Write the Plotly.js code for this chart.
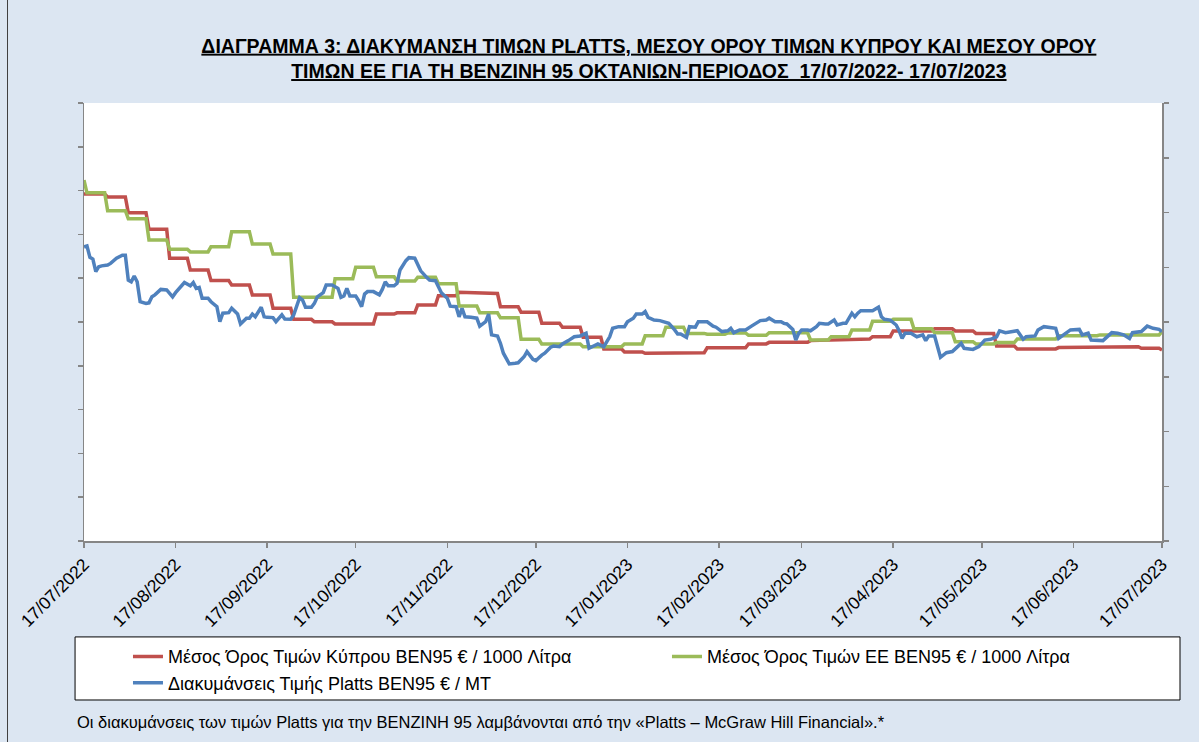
<!DOCTYPE html>
<html>
<head>
<meta charset="utf-8">
<script src="https://cdn.plot.ly/plotly-3.0.1.min.js"></script>
<style>
  html, body { margin: 0; padding: 0; background: #dce6f2; }
  #chart { position: absolute; left: 0; top: 0; width: 1199px; height: 742px; }
  #edge { position: absolute; left: 7px; top: 0; width: 1px; height: 742px; background: #404040; }
</style>
</head>
<body>
<div id="chart"></div>
<div id="edge"></div>
<script>
// Τιμές (Κύπρος / ΕΕ σε € / 1000 Λίτρα, Platts σε € / MT) — εκτιμήσεις από το διάγραμμα
const cyDates = ['2022-07-17','2022-07-24','2022-07-25','2022-07-31','2022-08-01','2022-08-07','2022-08-08','2022-08-14','2022-08-15','2022-08-21','2022-08-22','2022-08-28','2022-08-29','2022-09-04','2022-09-05','2022-09-11','2022-09-12','2022-09-18','2022-09-19','2022-09-25','2022-09-26','2022-10-02','2022-10-03','2022-10-09','2022-10-10','2022-10-23','2022-10-24','2022-10-30','2022-10-31','2022-11-06','2022-11-07','2022-11-13','2022-11-14','2022-11-20','2022-11-21','2022-12-04','2022-12-05','2022-12-11','2022-12-12','2022-12-18','2022-12-19','2022-12-25','2022-12-26','2023-01-01','2023-01-02','2023-01-08','2023-01-09','2023-01-15','2023-01-16','2023-01-22','2023-01-23','2023-01-29','2023-01-30','2023-02-12','2023-02-13','2023-02-26','2023-02-27','2023-03-05','2023-03-06','2023-03-19','2023-03-20','2023-04-09','2023-04-10','2023-04-16','2023-04-17','2023-04-30','2023-05-01','2023-05-07','2023-05-08','2023-05-14','2023-05-15','2023-05-21','2023-05-22','2023-05-28','2023-05-29','2023-06-11','2023-06-12','2023-06-25','2023-06-26','2023-07-09','2023-07-10','2023-07-16','2023-07-17'];
const cyValues = [1584,1584,1571,1571,1499,1499,1423,1423,1291,1291,1237,1237,1189,1189,1169,1169,1123,1123,1063,1063,1012,1012,1001,1001,991,991,1036,1036,1042,1042,1078,1078,1120,1120,1136,1130,1070,1070,1044,1044,994,994,976,976,930,930,877,877,863,863,857,857,860,860,882,882,900,900,907,907,915,922,933,933,959,959,969,969,959,959,948,948,890,890,877,877,883,883,887,887,880,880,872];

const euDates = ['2022-07-17','2022-07-18','2022-07-24','2022-07-25','2022-07-31','2022-08-01','2022-08-07','2022-08-08','2022-08-14','2022-08-15','2022-08-21','2022-08-22','2022-08-28','2022-08-29','2022-09-04','2022-09-05','2022-09-11','2022-09-12','2022-09-18','2022-09-19','2022-09-25','2022-09-26','2022-10-09','2022-10-10','2022-10-16','2022-10-17','2022-10-23','2022-10-24','2022-10-30','2022-10-31','2022-11-06','2022-11-07','2022-11-13','2022-11-14','2022-11-20','2022-11-21','2022-11-27','2022-11-28','2022-12-04','2022-12-05','2022-12-11','2022-12-12','2022-12-18','2022-12-19','2023-01-01','2023-01-02','2023-01-15','2023-01-16','2023-01-22','2023-01-23','2023-01-29','2023-01-30','2023-02-05','2023-02-06','2023-02-12','2023-02-13','2023-02-19','2023-02-20','2023-02-26','2023-02-27','2023-03-05','2023-03-06','2023-03-19','2023-03-20','2023-03-26','2023-03-27','2023-04-02','2023-04-03','2023-04-09','2023-04-10','2023-04-16','2023-04-17','2023-04-23','2023-04-24','2023-04-30','2023-05-01','2023-05-07','2023-05-08','2023-05-14','2023-05-15','2023-05-21','2023-05-22','2023-05-28','2023-05-29','2023-06-11','2023-06-12','2023-06-25','2023-06-26','2023-07-16','2023-07-17'];
const euValues = [1648,1590,1590,1508,1508,1472,1472,1374,1374,1332,1332,1320,1320,1344,1344,1412,1412,1356,1356,1310,1310,1113,1113,1198,1198,1250,1250,1207,1207,1187,1187,1204,1204,1175,1175,1073,1073,1042,1042,1019,1019,921,921,900,900,887,887,900,900,937,937,976,976,948,948,944,944,950,950,939,939,951,951,918,918,933,933,963,963,1003,1003,1012,1012,969,969,951,951,910,910,900,900,906,906,922,922,937,937,941,941,956];

const plattsDates = ['2022-07-17','2022-07-18','2022-07-19','2022-07-20','2022-07-21','2022-07-22','2022-07-23','2022-07-25','2022-07-26','2022-07-28','2022-07-30','2022-07-31','2022-08-01','2022-08-02','2022-08-03','2022-08-04','2022-08-05','2022-08-07','2022-08-08','2022-08-09','2022-08-10','2022-08-12','2022-08-14','2022-08-15','2022-08-16','2022-08-17','2022-08-19','2022-08-20','2022-08-22','2022-08-23','2022-08-24','2022-08-25','2022-08-26','2022-08-28','2022-08-29','2022-08-31','2022-09-01','2022-09-02','2022-09-04','2022-09-05','2022-09-07','2022-09-08','2022-09-10','2022-09-11','2022-09-12','2022-09-13','2022-09-15','2022-09-16','2022-09-17','2022-09-19','2022-09-20','2022-09-22','2022-09-23','2022-09-25','2022-09-26','2022-09-28','2022-09-29','2022-09-30','2022-10-02','2022-10-03','2022-10-04','2022-10-06','2022-10-07','2022-10-09','2022-10-11','2022-10-12','2022-10-13','2022-10-14','2022-10-15','2022-10-17','2022-10-18','2022-10-19','2022-10-20','2022-10-21','2022-10-23','2022-10-25','2022-10-26','2022-10-27','2022-10-28','2022-10-30','2022-10-31','2022-11-01','2022-11-03','2022-11-04','2022-11-06','2022-11-07','2022-11-08','2022-11-10','2022-11-11','2022-11-13','2022-11-14','2022-11-15','2022-11-17','2022-11-18','2022-11-20','2022-11-21','2022-11-22','2022-11-23','2022-11-25','2022-11-27','2022-11-28','2022-11-30','2022-12-01','2022-12-02','2022-12-04','2022-12-05','2022-12-06','2022-12-07','2022-12-08','2022-12-10','2022-12-11','2022-12-13','2022-12-14','2022-12-16','2022-12-17','2022-12-19','2022-12-20','2022-12-22','2022-12-23','2022-12-25','2022-12-26','2022-12-28','2022-12-30','2023-01-01','2023-01-03','2023-01-04','2023-01-06','2023-01-07','2023-01-09','2023-01-11','2023-01-12','2023-01-14','2023-01-16','2023-01-17','2023-01-19','2023-01-20','2023-01-22','2023-01-23','2023-01-24','2023-01-26','2023-01-28','2023-01-29','2023-01-31','2023-02-02','2023-02-03','2023-02-04','2023-02-06','2023-02-07','2023-02-09','2023-02-10','2023-02-13','2023-02-15','2023-02-16','2023-02-18','2023-02-20','2023-02-21','2023-02-22','2023-02-24','2023-02-26','2023-02-28','2023-03-02','2023-03-03','2023-03-05','2023-03-06','2023-03-08','2023-03-10','2023-03-11','2023-03-12','2023-03-14','2023-03-15','2023-03-16','2023-03-17','2023-03-19','2023-03-20','2023-03-22','2023-03-23','2023-03-25','2023-03-26','2023-03-28','2023-03-29','2023-03-31','2023-04-01','2023-04-03','2023-04-04','2023-04-05','2023-04-06','2023-04-10','2023-04-12','2023-04-13','2023-04-14','2023-04-16','2023-04-18','2023-04-19','2023-04-20','2023-04-21','2023-04-23','2023-04-25','2023-04-27','2023-04-28','2023-04-29','2023-05-01','2023-05-02','2023-05-03','2023-05-05','2023-05-07','2023-05-10','2023-05-11','2023-05-14','2023-05-16','2023-05-18','2023-05-20','2023-05-22','2023-05-23','2023-05-25','2023-05-29','2023-05-31','2023-06-01','2023-06-04','2023-06-05','2023-06-07','2023-06-11','2023-06-12','2023-06-14','2023-06-16','2023-06-19','2023-06-20','2023-06-22','2023-06-23','2023-06-27','2023-06-30','2023-07-02','2023-07-04','2023-07-06','2023-07-07','2023-07-10','2023-07-12','2023-07-14','2023-07-16','2023-07-17'];
const plattsValues = [1075,1078,1036,1030,984,1002,1005,1008,1014,1033,1044,1044,953,947,968,947,874,868,870,892,899,919,917,905,892,907,935,944,932,944,923,926,887,887,874,856,801,832,834,850,829,793,814,814,829,819,854,819,817,816,801,826,811,810,826,889,880,854,854,868,892,907,935,935,923,890,895,923,895,895,878,856,902,911,911,899,919,947,932,932,941,990,1024,1035,1033,1008,987,963,953,951,932,907,887,858,856,819,850,819,817,814,785,801,829,753,749,722,686,664,647,649,651,673,692,664,659,679,686,708,712,710,720,732,746,749,759,704,716,720,710,746,777,783,783,801,814,829,829,838,817,807,805,801,795,771,756,756,744,783,781,801,801,785,781,765,768,777,761,771,771,785,801,805,807,814,801,801,795,793,773,734,759,771,771,768,783,795,793,793,807,789,795,795,832,819,832,841,841,854,819,810,807,789,768,740,759,759,746,753,732,749,749,704,671,688,692,722,704,700,710,734,737,746,768,761,768,737,746,749,771,783,777,740,756,771,773,753,759,734,732,761,759,753,740,761,765,785,777,773,765];

const tickDates = ['2022-07-17','2022-08-17','2022-09-17','2022-10-17','2022-11-17','2022-12-17','2023-01-17','2023-02-17','2023-03-17','2023-04-17','2023-05-17','2023-06-17','2023-07-17'];
const tickLabels = ['17/07/2022','17/08/2022','17/09/2022','17/10/2022','17/11/2022','17/12/2022','17/01/2023','17/02/2023','17/03/2023','17/04/2023','17/05/2023','17/06/2023','17/07/2023'];

const seriesNames = [
  'Μέσος Όρος Τιμών Κύπρου BEN95 € / 1000 Λίτρα',
  'Μέσος Όρος Τιμών ΕΕ BEN95 € / 1000 Λίτρα',
  'Διακυμάνσεις Τιμής Platts BEN95 € / MT'
];

const FONT = 'Liberation Sans, Arial, sans-serif';
const AXC = '#868686';

const traces = [
  { x: cyDates, y: cyValues, name: seriesNames[0], type: 'scatter', mode: 'lines',
    line: { color: '#c0504d', width: 3.5 }, yaxis: 'y', legendwidth: 494 },
  { x: euDates, y: euValues, name: seriesNames[1], type: 'scatter', mode: 'lines',
    line: { color: '#9bbb59', width: 3.5 }, yaxis: 'y' },
  { x: plattsDates, y: plattsValues, name: seriesNames[2], type: 'scatter', mode: 'lines',
    line: { color: '#4f81bd', width: 3.5 }, yaxis: 'y2' }
];

const layout = {
  width: 1199, height: 742,
  paper_bgcolor: '#dce6f2', plot_bgcolor: '#ffffff',
  margin: { l: 84, r: 37, t: 103, b: 201 },
  font: { family: FONT, color: '#000000', size: 14 },
  title: {
    text: '<b><u>ΔΙΑΓΡΑΜΜΑ 3: ΔΙΑΚΥΜΑΝΣΗ ΤΙΜΩΝ PLATTS, ΜΕΣΟΥ ΟΡΟΥ ΤΙΜΩΝ ΚΥΠΡΟΥ ΚΑΙ ΜΕΣΟΥ ΟΡΟΥ</u></b><br><b><u>ΤΙΜΩΝ ΕΕ ΓΙΑ ΤΗ ΒΕΝΖΙΝΗ 95 ΟΚΤΑΝΙΩΝ-ΠΕΡΙΟΔΟΣ  17/07/2022- 17/07/2023</u></b>',
    font: { family: FONT, size: 19.5, color: '#000000' },
    xref: 'paper', x: 0.524, xanchor: 'center',
    yref: 'container', y: 0.929, yanchor: 'top'
  },
  xaxis: {
    type: 'date', range: ['2022-07-17', '2023-07-17'],
    tickvals: tickDates, ticktext: tickLabels, tickangle: -45,
    tickfont: { family: FONT, size: 17.5, color: '#000000' },
    showline: true, linecolor: AXC, linewidth: 1.5,
    ticks: 'outside', ticklen: 5, tickcolor: AXC, tickwidth: 1.5,
    showgrid: false, zeroline: false, fixedrange: true
  },
  yaxis: {
    range: [0, 2000], dtick: 200, tick0: 0,
    showticklabels: false, showline: true, linecolor: AXC, linewidth: 1.5,
    ticks: 'outside', ticklen: 5, tickcolor: AXC, tickwidth: 1.5,
    showgrid: false, zeroline: false, fixedrange: true
  },
  yaxis2: {
    range: [0, 1600], dtick: 200, tick0: 0, overlaying: 'y', side: 'right', anchor: 'x',
    showticklabels: false, showline: true, linecolor: AXC, linewidth: 1.5,
    ticks: 'outside', ticklen: 5, tickcolor: AXC, tickwidth: 1.5,
    showgrid: false, zeroline: false, fixedrange: true
  },
  showlegend: true,
  legend: {
    orientation: 'h', x: 0.0408, xanchor: 'left', y: -0.222, yanchor: 'top',
    bgcolor: 'rgba(0,0,0,0)', borderwidth: 0,
    font: { family: FONT, size: 18, color: '#000000' },
    itemwidth: 30, traceorder: 'normal'
  },
  shapes: [
    { type: 'rect', xref: 'paper', yref: 'paper', x0: -0.0083, x1: 1.0167, y0: -0.363, y1: -0.219,
      line: { color: '#000000', width: 1 }, fillcolor: '#ffffff', layer: 'below' }
  ],
  annotations: [
    { text: 'Οι διακυμάνσεις των τιμών Platts για την BENZINH 95 λαμβάνονται από την «Platts – McGraw Hill Financial».*',
      xref: 'paper', yref: 'paper', x: -0.0083, y: -0.413, xanchor: 'left', yanchor: 'middle',
      showarrow: false, font: { family: FONT, size: 16.5, color: '#000000' } }
  ]
};

Plotly.newPlot('chart', traces, layout, { staticPlot: true, displayModeBar: false });
</script>
</body>
</html>
